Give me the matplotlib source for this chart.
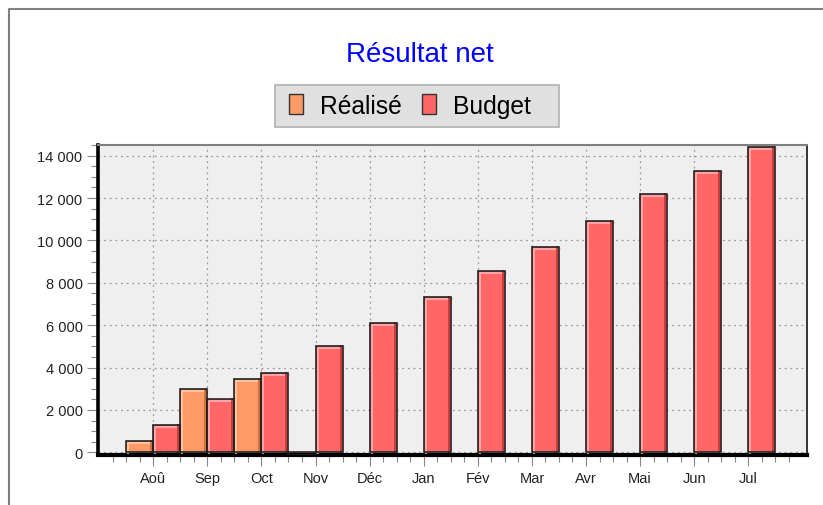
import matplotlib
matplotlib.use('Agg')
import matplotlib.pyplot as plt
import matplotlib.transforms as mtransforms
from matplotlib.patches import Patch, Rectangle
from matplotlib.lines import Line2D
from matplotlib.ticker import FixedLocator, MultipleLocator, FuncFormatter
import numpy as np

plt.rcParams['font.family'] = ['Liberation Sans', 'DejaVu Sans']

# données
mois = ['Aoû', 'Sep', 'Oct', 'Nov', 'Déc', 'Jan', 'Fév', 'Mar', 'Avr', 'Mai', 'Jun', 'Jul']
realise = [550, 3000, 3470, -120]
budget = [1300, 2530, 3760, 5000, 6100, 7350, 8570, 9700, 10930, 12190, 13280, 14430]

W, H = 823, 506
fig = plt.figure(figsize=(W / 100, H / 100), dpi=100)
ax = fig.add_axes([97.5 / W, 1 - 456.3 / H, (806.7 - 97.5) / W, (456.3 - 145.7) / H])
ax.set_facecolor('#efefef')

x = np.arange(len(mois))
w = 0.5


def barres(xs, vals, couleur, clair, fonce):
    # remplissage, puis reflets (effet relief), puis contour
    ax.bar(xs, vals, width=w, align='edge', color=couleur, edgecolor='none', zorder=2)
    hl = mtransforms.offset_copy(ax.transData, fig=fig, x=2, y=-2, units='dots')
    sh = mtransforms.offset_copy(ax.transData, fig=fig, x=-2, y=0, units='dots')
    for xi, v in zip(xs, vals):
        if v <= 0:
            continue
        ax.plot([xi, xi, xi + w], [0, v, v], color=clair, lw=1.1, transform=hl,
                zorder=3, solid_capstyle='butt')
        ax.plot([xi + w, xi + w], [0, v], color=fonce, lw=1.4, transform=sh, zorder=3)
    ax.bar(xs, vals, width=w, align='edge', facecolor='none', edgecolor='#222222',
           linewidth=1.2, zorder=4)


barres(x[:len(realise)] - w, realise, '#ff9966', '#ffd0b0', '#d07040')
barres(x, budget, '#ff6666', '#ffb8b8', '#c83c3c')

ax.set_xlim(-1.03, 12.08)
ax.set_ylim(-140, 14520)

ax.set_xticks(x)
ax.set_xticklabels(mois)
ax.xaxis.set_minor_locator(FixedLocator(np.arange(-0.75, 12, 0.25)))
ax.set_yticks(range(0, 14001, 2000))
ax.yaxis.set_minor_locator(MultipleLocator(500))
ax.yaxis.set_major_formatter(FuncFormatter(lambda v, p: f"{int(v):,}".replace(',', ' ')))

ax.tick_params(axis='both', which='both', color='#888888', width=0.8,
               labelsize=10.5, labelcolor='#222222')
ax.tick_params(axis='y', which='major', length=7.8, pad=3)
ax.tick_params(axis='y', which='minor', length=4.9)
ax.tick_params(axis='x', which='major', length=8, pad=3)
ax.tick_params(axis='x', which='minor', length=5)

ax.grid(True, which='major', color='#999999', linestyle=(0, (1.5, 3)), linewidth=0.9)
ax.set_axisbelow(True)

ax.spines['left'].set_linewidth(2.6)
ax.spines['left'].set_color('black')
ax.spines['bottom'].set_linewidth(3)
ax.spines['bottom'].set_color('black')
ax.spines['top'].set_linewidth(1.5)
ax.spines['top'].set_color('#808080')
ax.spines['right'].set_linewidth(1.1)
ax.spines['right'].set_color('black')

fig.text(420 / W, 1 - 62.5 / H, 'Résultat net', ha='center', va='baseline',
         fontsize=20, color='#0000ff')

# cadre de la légende
fig.add_artist(Rectangle((275 / W, 1 - 127.7 / H), (559.3 - 275) / W, 42 / H,
                         transform=fig.transFigure, facecolor='#e0e0e0',
                         edgecolor='#b0b0b0', linewidth=1.2))
poignees = [Patch(facecolor='#ff9966', edgecolor='#333333', label='Réalisé'),
            Patch(facecolor='#ff6666', edgecolor='#333333', label='Budget')]
fig.legend(handles=poignees, loc='center left', bbox_to_anchor=(289 / W, 1 - 106.7 / H),
           ncol=2, fontsize=17.7, frameon=False, handlelength=0.57,
           handleheight=0.9, handletextpad=0.7, columnspacing=0.81, borderpad=0,
           borderaxespad=0)

# cadre gris en haut et à gauche
fig.add_artist(Line2D([9 / W, 9 / W, 1], [0, 1 - 10 / H, 1 - 10 / H],
                      color='#808080', lw=1.5))

fig.savefig('out.png', dpi=100)
